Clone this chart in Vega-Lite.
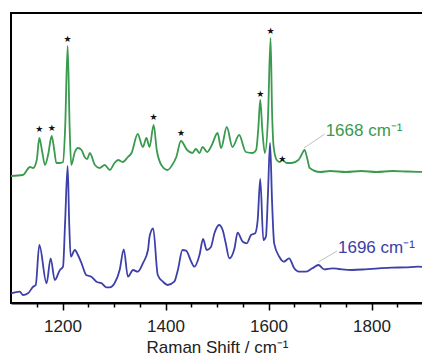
{
  "$schema": "https://vega.github.io/schema/vega-lite/v6.json",
  "width": 412,
  "height": 290,
  "autosize": "none",
  "padding": {"left": 11, "top": 13, "right": 0, "bottom": 54},
  "background": "white",
  "config": {
    "view": {"stroke": "black", "strokeWidth": 2},
    "font": "Liberation Sans"
  },
  "resolve": {"axis": {"x": "independent"}},
  "datasets": {
    "spectra": [
      {"w": 1100, "v": 127, "s": "upper"}, {"w": 1123, "v": 128, "s": "upper"}, {"w": 1137, "v": 136, "s": "upper"}, {"w": 1143, "v": 135, "s": "upper"},
      {"w": 1150, "v": 143, "s": "upper"}, {"w": 1155, "v": 165, "s": "upper"}, {"w": 1160, "v": 153, "s": "upper"}, {"w": 1166, "v": 138, "s": "upper"},
      {"w": 1172, "v": 148, "s": "upper"}, {"w": 1179, "v": 167, "s": "upper"}, {"w": 1184, "v": 153, "s": "upper"}, {"w": 1188, "v": 140, "s": "upper"},
      {"w": 1195, "v": 140, "s": "upper"}, {"w": 1201, "v": 141, "s": "upper"}, {"w": 1205, "v": 173, "s": "upper"}, {"w": 1210, "v": 257, "s": "upper"},
      {"w": 1214, "v": 173, "s": "upper"}, {"w": 1217, "v": 138, "s": "upper"}, {"w": 1224, "v": 151, "s": "upper"}, {"w": 1230, "v": 155, "s": "upper"},
      {"w": 1237, "v": 153, "s": "upper"}, {"w": 1243, "v": 146, "s": "upper"}, {"w": 1248, "v": 144, "s": "upper"}, {"w": 1253, "v": 150, "s": "upper"},
      {"w": 1263, "v": 138, "s": "upper"}, {"w": 1272, "v": 135, "s": "upper"}, {"w": 1282, "v": 138, "s": "upper"}, {"w": 1292, "v": 133, "s": "upper"},
      {"w": 1301, "v": 140, "s": "upper"}, {"w": 1308, "v": 143, "s": "upper"}, {"w": 1317, "v": 141, "s": "upper"}, {"w": 1327, "v": 146, "s": "upper"},
      {"w": 1334, "v": 150, "s": "upper"}, {"w": 1346, "v": 169, "s": "upper"}, {"w": 1356, "v": 156, "s": "upper"}, {"w": 1363, "v": 165, "s": "upper"},
      {"w": 1369, "v": 156, "s": "upper"}, {"w": 1377, "v": 178, "s": "upper"}, {"w": 1383, "v": 153, "s": "upper"}, {"w": 1392, "v": 138, "s": "upper"},
      {"w": 1404, "v": 133, "s": "upper"}, {"w": 1413, "v": 138, "s": "upper"}, {"w": 1421, "v": 146, "s": "upper"}, {"w": 1430, "v": 162, "s": "upper"},
      {"w": 1442, "v": 153, "s": "upper"}, {"w": 1452, "v": 150, "s": "upper"}, {"w": 1459, "v": 154, "s": "upper"}, {"w": 1466, "v": 150, "s": "upper"},
      {"w": 1472, "v": 156, "s": "upper"}, {"w": 1481, "v": 151, "s": "upper"}, {"w": 1490, "v": 158, "s": "upper"}, {"w": 1501, "v": 170, "s": "upper"},
      {"w": 1508, "v": 155, "s": "upper"}, {"w": 1519, "v": 176, "s": "upper"}, {"w": 1530, "v": 156, "s": "upper"}, {"w": 1543, "v": 168, "s": "upper"},
      {"w": 1556, "v": 151, "s": "upper"}, {"w": 1569, "v": 150, "s": "upper"}, {"w": 1576, "v": 153, "s": "upper"}, {"w": 1580, "v": 173, "s": "upper"},
      {"w": 1584, "v": 203, "s": "upper"}, {"w": 1588, "v": 173, "s": "upper"}, {"w": 1593, "v": 150, "s": "upper"}, {"w": 1599, "v": 185, "s": "upper"},
      {"w": 1604, "v": 265, "s": "upper"}, {"w": 1607, "v": 190, "s": "upper"}, {"w": 1610, "v": 156, "s": "upper"}, {"w": 1616, "v": 143, "s": "upper"},
      {"w": 1622, "v": 141, "s": "upper"}, {"w": 1627, "v": 143, "s": "upper"}, {"w": 1635, "v": 140, "s": "upper"}, {"w": 1645, "v": 140, "s": "upper"},
      {"w": 1658, "v": 143, "s": "upper"}, {"w": 1664, "v": 148, "s": "upper"}, {"w": 1670, "v": 153, "s": "upper"}, {"w": 1675, "v": 145, "s": "upper"},
      {"w": 1680, "v": 135, "s": "upper"}, {"w": 1700, "v": 131, "s": "upper"}, {"w": 1720, "v": 132, "s": "upper"}, {"w": 1750, "v": 131, "s": "upper"},
      {"w": 1780, "v": 132, "s": "upper"}, {"w": 1810, "v": 131, "s": "upper"}, {"w": 1840, "v": 132, "s": "upper"}, {"w": 1870, "v": 131.5, "s": "upper"},
      {"w": 1900, "v": 131, "s": "upper"},
      {"w": 1100, "v": 9.7, "s": "lower"}, {"w": 1117, "v": 11.3, "s": "lower"}, {"w": 1123, "v": 8, "s": "lower"}, {"w": 1133, "v": 9.7, "s": "lower"},
      {"w": 1143, "v": 16.3, "s": "lower"}, {"w": 1148, "v": 18, "s": "lower"}, {"w": 1155, "v": 58, "s": "lower"}, {"w": 1169, "v": 19.7, "s": "lower"},
      {"w": 1177, "v": 44.7, "s": "lower"}, {"w": 1185, "v": 23, "s": "lower"}, {"w": 1195, "v": 33, "s": "lower"}, {"w": 1201, "v": 36.3, "s": "lower"},
      {"w": 1205, "v": 80, "s": "lower"}, {"w": 1210, "v": 137, "s": "lower"}, {"w": 1213, "v": 80, "s": "lower"}, {"w": 1216, "v": 46.3, "s": "lower"},
      {"w": 1224, "v": 53, "s": "lower"}, {"w": 1230, "v": 48, "s": "lower"}, {"w": 1237, "v": 39.7, "s": "lower"}, {"w": 1246, "v": 28, "s": "lower"},
      {"w": 1256, "v": 26.3, "s": "lower"}, {"w": 1266, "v": 21.3, "s": "lower"}, {"w": 1276, "v": 19.7, "s": "lower"}, {"w": 1285, "v": 15.7, "s": "lower"},
      {"w": 1292, "v": 15.7, "s": "lower"}, {"w": 1301, "v": 19.7, "s": "lower"}, {"w": 1311, "v": 33, "s": "lower"}, {"w": 1319, "v": 53.7, "s": "lower"},
      {"w": 1327, "v": 26.3, "s": "lower"}, {"w": 1337, "v": 33, "s": "lower"}, {"w": 1346, "v": 31.3, "s": "lower"}, {"w": 1356, "v": 39.7, "s": "lower"},
      {"w": 1366, "v": 53, "s": "lower"}, {"w": 1369, "v": 66.3, "s": "lower"}, {"w": 1376, "v": 74.7, "s": "lower"}, {"w": 1385, "v": 28, "s": "lower"},
      {"w": 1395, "v": 21.3, "s": "lower"}, {"w": 1404, "v": 18, "s": "lower"}, {"w": 1417, "v": 21.3, "s": "lower"}, {"w": 1424, "v": 33, "s": "lower"},
      {"w": 1433, "v": 53, "s": "lower"}, {"w": 1440, "v": 52.3, "s": "lower"}, {"w": 1450, "v": 41.3, "s": "lower"}, {"w": 1456, "v": 36.3, "s": "lower"},
      {"w": 1466, "v": 48, "s": "lower"}, {"w": 1473, "v": 64, "s": "lower"}, {"w": 1480, "v": 53, "s": "lower"}, {"w": 1488, "v": 55.7, "s": "lower"},
      {"w": 1495, "v": 69.7, "s": "lower"}, {"w": 1504, "v": 78, "s": "lower"}, {"w": 1511, "v": 73, "s": "lower"}, {"w": 1517, "v": 59.7, "s": "lower"},
      {"w": 1524, "v": 44.7, "s": "lower"}, {"w": 1534, "v": 54.7, "s": "lower"}, {"w": 1540, "v": 70.3, "s": "lower"}, {"w": 1550, "v": 61.3, "s": "lower"},
      {"w": 1558, "v": 59.7, "s": "lower"}, {"w": 1566, "v": 68, "s": "lower"}, {"w": 1574, "v": 69.7, "s": "lower"}, {"w": 1579, "v": 83, "s": "lower"},
      {"w": 1584, "v": 124, "s": "lower"}, {"w": 1590, "v": 63, "s": "lower"}, {"w": 1595, "v": 66.3, "s": "lower"}, {"w": 1599, "v": 110, "s": "lower"},
      {"w": 1603, "v": 160, "s": "lower"}, {"w": 1607, "v": 100, "s": "lower"}, {"w": 1611, "v": 59.7, "s": "lower"}, {"w": 1621, "v": 46.3, "s": "lower"},
      {"w": 1630, "v": 41.3, "s": "lower"}, {"w": 1640, "v": 44.7, "s": "lower"}, {"w": 1650, "v": 34.7, "s": "lower"}, {"w": 1659, "v": 31.3, "s": "lower"},
      {"w": 1672, "v": 31.3, "s": "lower"}, {"w": 1685, "v": 34.7, "s": "lower"}, {"w": 1697, "v": 38, "s": "lower"}, {"w": 1708, "v": 33.7, "s": "lower"},
      {"w": 1724, "v": 34.7, "s": "lower"}, {"w": 1737, "v": 34, "s": "lower"}, {"w": 1762, "v": 33, "s": "lower"}, {"w": 1788, "v": 33.7, "s": "lower"},
      {"w": 1814, "v": 34.7, "s": "lower"}, {"w": 1840, "v": 35.3, "s": "lower"}, {"w": 1866, "v": 35.7, "s": "lower"}, {"w": 1891, "v": 36.3, "s": "lower"},
      {"w": 1900, "v": 36, "s": "lower"}
    ],
    "stars": [
      {"w": 1155, "v": 174}, {"w": 1179, "v": 175}, {"w": 1210, "v": 264}, {"w": 1377, "v": 186},
      {"w": 1430, "v": 170}, {"w": 1584, "v": 209}, {"w": 1604, "v": 272}, {"w": 1627, "v": 144}
    ],
    "notes": [
      {"w": 1669, "v": 155, "w2": 1709, "v2": 169, "t": "1668 cm⁻¹", "s": "upper"},
      {"w": 1697, "v": 41, "w2": 1733, "v2": 52, "t": "1696 cm⁻¹", "s": "lower"}
    ]
  },
  "layer": [
    {
      "data": {"name": "spectra"},
      "mark": {"type": "line", "strokeWidth": 1.8, "interpolate": "monotone"},
      "encoding": {
        "x": {
          "field": "w", "type": "quantitative",
          "scale": {"domain": [1100, 1900], "nice": false, "zero": false},
          "axis": {
            "orient": "bottom",
            "title": null,
            "values": [1150, 1250, 1300, 1350, 1450, 1500, 1550, 1650, 1700, 1750, 1850],
            "labels": false,
            "ticks": true,
            "grid": false,
            "zindex": 1,
            "domainColor": "black", "domainWidth": 2,
            "tickColor": "black", "tickWidth": 1.5,
            "tickSize": 4,
            "encode": {"ticks": {"update": {"y2": {"value": -4}}}}
          }
        },
        "y": {"field": "v", "type": "quantitative", "scale": {"domain": [0, 290], "nice": false}, "axis": null},
        "color": {"field": "s", "type": "nominal", "scale": {"domain": ["upper", "lower"], "range": ["#3a9a4e", "#3c40a8"]}, "legend": null},
        "order": {"field": "w", "type": "quantitative"}
      }
    },
    {
      "data": {"name": "notes"},
      "mark": {"type": "rule", "strokeWidth": 0.8, "color": "#a9b3aa"},
      "encoding": {
        "x": {"field": "w", "type": "quantitative", "axis": null},
        "y": {"field": "v", "type": "quantitative"},
        "x2": {"field": "w2"},
        "y2": {"field": "v2"}
      }
    },
    {
      "data": {"name": "notes"},
      "mark": {"type": "text", "align": "left", "baseline": "middle", "fontSize": 17, "dx": 1, "dy": -3},
      "encoding": {
        "x": {"field": "w2", "type": "quantitative", "axis": null},
        "y": {"field": "v2", "type": "quantitative"},
        "text": {"field": "t"},
        "color": {"field": "s", "type": "nominal", "scale": {"domain": ["upper", "lower"], "range": ["#3a9a4e", "#3c40a8"]}, "legend": null}
      }
    },
    {
      "data": {"name": "stars"},
      "mark": {"type": "text", "text": "★", "fontSize": 9, "baseline": "middle", "align": "center", "color": "#111", "font": "DejaVu Sans"},
      "encoding": {
        "x": {
          "field": "w", "type": "quantitative",
          "axis": {
            "orient": "bottom",
            "title": "Raman Shift / cm⁻¹",
            "values": [1200, 1400, 1600, 1800],
            "format": "d",
            "ticks": true,
            "grid": false,
            "zindex": 1,
            "domain": false,
            "tickColor": "black", "tickWidth": 1.5,
            "tickSize": 7,
            "encode": {"ticks": {"update": {"y2": {"value": -7}}}},
            "labelPadding": 8,
            "labelFontSize": 17, "labelColor": "#222",
            "titleFontSize": 17, "titleFontWeight": "normal", "titleColor": "#222",
            "titleBaseline": "alphabetic", "titleY": 49
          }
        },
        "y": {"field": "v", "type": "quantitative"}
      }
    }
  ]
}
